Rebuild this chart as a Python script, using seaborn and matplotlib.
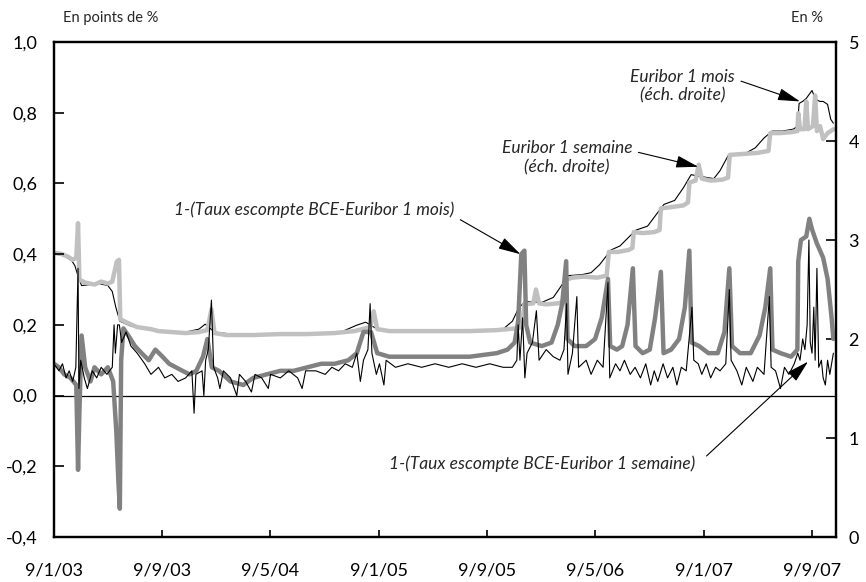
import matplotlib
matplotlib.use("Agg")
import matplotlib.pyplot as plt
import matplotlib.dates as mdates
import seaborn as sns
import pandas as pd

# Euribor 1 semaine, échelle droite (en %)
euribor_1s = [
    ("2003-01-09", 2.87), ("2003-01-25", 2.86), ("2003-02-10", 2.83), ("2003-02-20", 2.80),
    ("2003-02-28", 2.82), ("2003-03-04", 3.17), ("2003-03-07", 2.60), ("2003-03-20", 2.57),
    ("2003-04-10", 2.55), ("2003-04-25", 2.58), ("2003-05-10", 2.56), ("2003-05-20", 2.58),
    ("2003-05-30", 2.78), ("2003-06-04", 2.80), ("2003-06-07", 2.20), ("2003-06-20", 2.17),
    ("2003-07-15", 2.12), ("2003-08-15", 2.10), ("2003-09-01", 2.08), ("2003-10-01", 2.07),
    ("2003-11-01", 2.06), ("2003-12-01", 2.07), ("2003-12-20", 2.09), ("2003-12-29", 2.30),
    ("2004-01-05", 2.06), ("2004-02-01", 2.04), ("2004-04-01", 2.04), ("2004-06-01", 2.05),
    ("2004-08-01", 2.05), ("2004-10-01", 2.06), ("2004-11-15", 2.08), ("2004-12-20", 2.12),
    ("2004-12-28", 2.28), ("2005-01-05", 2.10), ("2005-02-01", 2.08), ("2005-05-01", 2.08),
    ("2005-08-01", 2.08), ("2005-10-01", 2.09), ("2005-11-20", 2.11), ("2005-11-28", 2.20),
    ("2005-12-02", 2.35), ("2005-12-22", 2.36), ("2005-12-28", 2.50), ("2006-01-04", 2.36),
    ("2006-01-20", 2.35), ("2006-02-15", 2.36), ("2006-03-02", 2.38), ("2006-03-06", 2.60),
    ("2006-03-20", 2.62), ("2006-04-15", 2.63), ("2006-05-15", 2.62), ("2006-06-05", 2.64),
    ("2006-06-10", 2.88), ("2006-07-01", 2.88), ("2006-07-25", 2.90), ("2006-08-02", 2.92),
    ("2006-08-05", 3.08), ("2006-08-25", 3.07), ("2006-09-20", 3.08), ("2006-10-02", 3.10),
    ("2006-10-05", 3.32), ("2006-10-25", 3.33), ("2006-11-25", 3.35), ("2006-12-05", 3.38),
    ("2006-12-08", 3.58), ("2006-12-22", 3.60), ("2006-12-29", 3.76), ("2007-01-05", 3.62),
    ("2007-01-25", 3.60), ("2007-02-20", 3.61), ("2007-03-05", 3.63), ("2007-03-09", 3.86),
    ("2007-04-10", 3.87), ("2007-05-10", 3.88), ("2007-06-04", 3.90), ("2007-06-08", 4.08),
    ("2007-07-01", 4.08), ("2007-07-25", 4.09), ("2007-08-08", 4.10), ("2007-08-10", 4.28),
    ("2007-08-14", 4.12), ("2007-08-24", 4.12), ("2007-08-28", 4.40), ("2007-09-01", 4.12),
    ("2007-09-12", 4.15), ("2007-09-17", 4.46), ("2007-09-21", 4.10), ("2007-09-28", 4.15),
    ("2007-10-05", 4.02), ("2007-10-15", 4.08), ("2007-10-22", 4.10), ("2007-10-28", 4.12),
]

# Euribor 1 mois, échelle droite (en %)
euribor_1m = [
    ("2003-01-09", 2.86), ("2003-02-01", 2.84), ("2003-02-18", 2.79), ("2003-02-25", 2.74),
    ("2003-03-05", 2.62), ("2003-03-12", 2.54), ("2003-04-01", 2.55), ("2003-04-20", 2.56),
    ("2003-05-10", 2.54), ("2003-05-20", 2.48), ("2003-05-28", 2.32), ("2003-06-06", 2.18),
    ("2003-07-01", 2.13), ("2003-08-01", 2.10), ("2003-09-01", 2.08), ("2003-10-01", 2.07),
    ("2003-11-01", 2.07), ("2003-12-01", 2.10), ("2003-12-15", 2.15), ("2004-01-05", 2.07),
    ("2004-03-01", 2.04), ("2004-05-01", 2.05), ("2004-07-01", 2.05), ("2004-09-01", 2.06),
    ("2004-10-15", 2.07), ("2004-11-20", 2.14), ("2004-12-10", 2.17), ("2005-01-05", 2.10),
    ("2005-03-01", 2.08), ("2005-06-01", 2.08), ("2005-09-01", 2.09), ("2005-10-15", 2.10),
    ("2005-11-05", 2.18), ("2005-11-20", 2.32), ("2005-12-05", 2.38), ("2006-01-10", 2.37),
    ("2006-02-05", 2.42), ("2006-02-25", 2.55), ("2006-03-10", 2.64), ("2006-04-10", 2.65),
    ("2006-05-01", 2.67), ("2006-05-20", 2.75), ("2006-06-15", 2.90), ("2006-07-05", 2.94),
    ("2006-07-25", 3.03), ("2006-08-10", 3.10), ("2006-09-05", 3.14), ("2006-09-25", 3.26),
    ("2006-10-12", 3.36), ("2006-11-05", 3.40), ("2006-11-25", 3.53), ("2006-12-12", 3.66),
    ("2007-01-05", 3.64), ("2007-02-01", 3.62), ("2007-02-15", 3.70), ("2007-03-05", 3.85),
    ("2007-03-20", 3.87), ("2007-04-15", 3.88), ("2007-05-05", 3.93), ("2007-05-25", 4.03),
    ("2007-06-12", 4.10), ("2007-07-05", 4.10), ("2007-07-30", 4.12), ("2007-08-08", 4.15),
    ("2007-08-12", 4.38), ("2007-08-20", 4.40), ("2007-08-28", 4.43), ("2007-09-05", 4.48),
    ("2007-09-10", 4.51), ("2007-09-18", 4.42), ("2007-09-28", 4.40), ("2007-10-05", 4.40),
    ("2007-10-15", 4.37), ("2007-10-22", 4.22), ("2007-10-28", 4.18),
]

# 1-(Taux escompte BCE - Euribor 1 mois), échelle gauche (en points de %)
ecart_1m = [
    ("2003-01-09", 0.09), ("2003-01-20", 0.08), ("2003-02-01", 0.06), ("2003-02-15", 0.05),
    ("2003-02-28", 0.03), ("2003-03-04", -0.21), ("2003-03-07", -0.05), ("2003-03-12", 0.17),
    ("2003-03-20", 0.08), ("2003-04-01", 0.04), ("2003-04-10", 0.08), ("2003-04-25", 0.06),
    ("2003-05-10", 0.08), ("2003-05-22", 0.04), ("2003-05-29", -0.10), ("2003-06-03", -0.25),
    ("2003-06-06", -0.32), ("2003-06-09", 0.10), ("2003-06-14", 0.19), ("2003-06-25", 0.17),
    ("2003-07-10", 0.14), ("2003-07-25", 0.12), ("2003-08-10", 0.10), ("2003-08-25", 0.13),
    ("2003-09-10", 0.11), ("2003-09-25", 0.09), ("2003-10-10", 0.08), ("2003-10-25", 0.07),
    ("2003-11-10", 0.06), ("2003-11-25", 0.07), ("2003-12-10", 0.11), ("2003-12-20", 0.16),
    ("2003-12-30", 0.08), ("2004-01-15", 0.07), ("2004-02-10", 0.04), ("2004-03-10", 0.03),
    ("2004-04-01", 0.05), ("2004-05-01", 0.06), ("2004-06-01", 0.07), ("2004-07-01", 0.07),
    ("2004-08-01", 0.08), ("2004-09-01", 0.09), ("2004-10-01", 0.09), ("2004-11-01", 0.10),
    ("2004-11-20", 0.12), ("2004-12-05", 0.18), ("2004-12-22", 0.18), ("2005-01-05", 0.12),
    ("2005-02-01", 0.11), ("2005-04-01", 0.11), ("2005-06-01", 0.11), ("2005-08-01", 0.11),
    ("2005-10-01", 0.12), ("2005-10-25", 0.13), ("2005-11-10", 0.15), ("2005-11-18", 0.21),
    ("2005-11-25", 0.40), ("2005-12-02", 0.41), ("2005-12-06", 0.20), ("2005-12-15", 0.15),
    ("2006-01-10", 0.14), ("2006-02-01", 0.15), ("2006-02-15", 0.20), ("2006-02-25", 0.26),
    ("2006-03-06", 0.38), ("2006-03-09", 0.16), ("2006-03-25", 0.14), ("2006-04-20", 0.14),
    ("2006-05-10", 0.16), ("2006-05-25", 0.22), ("2006-06-08", 0.33), ("2006-06-13", 0.14),
    ("2006-06-28", 0.13), ("2006-07-10", 0.14), ("2006-07-22", 0.20), ("2006-08-03", 0.36),
    ("2006-08-09", 0.14), ("2006-08-25", 0.12), ("2006-09-10", 0.13), ("2006-09-22", 0.22),
    ("2006-10-05", 0.35), ("2006-10-11", 0.12), ("2006-10-28", 0.13), ("2006-11-15", 0.16),
    ("2006-11-28", 0.25), ("2006-12-08", 0.41), ("2006-12-13", 0.15), ("2006-12-30", 0.14),
    ("2007-01-20", 0.12), ("2007-02-10", 0.12), ("2007-02-25", 0.18), ("2007-03-08", 0.36),
    ("2007-03-14", 0.14), ("2007-04-01", 0.12), ("2007-04-25", 0.12), ("2007-05-15", 0.17),
    ("2007-05-28", 0.25), ("2007-06-08", 0.36), ("2007-06-13", 0.13), ("2007-07-01", 0.12),
    ("2007-07-25", 0.11), ("2007-08-08", 0.13), ("2007-08-10", 0.38), ("2007-08-16", 0.44),
    ("2007-08-28", 0.45), ("2007-09-04", 0.50), ("2007-09-10", 0.47), ("2007-09-21", 0.43),
    ("2007-10-05", 0.39), ("2007-10-15", 0.33), ("2007-10-24", 0.22), ("2007-10-28", 0.16),
]

# 1-(Taux escompte BCE - Euribor 1 semaine), échelle gauche (en points de %)
ecart_1s = [
    ("2003-01-09", 0.09), ("2003-01-20", 0.07), ("2003-01-28", 0.09), ("2003-02-05", 0.05),
    ("2003-02-12", 0.07), ("2003-02-20", 0.04), ("2003-02-27", 0.08), ("2003-03-04", 0.36),
    ("2003-03-06", 0.02), ("2003-03-10", 0.10), ("2003-03-18", 0.05), ("2003-03-25", 0.02),
    ("2003-04-05", 0.07), ("2003-04-15", 0.05), ("2003-04-25", 0.08), ("2003-05-08", 0.06),
    ("2003-05-20", 0.08), ("2003-05-24", 0.20), ("2003-05-27", 0.12), ("2003-06-01", 0.20),
    ("2003-06-05", 0.20), ("2003-06-10", 0.15), ("2003-06-20", 0.18), ("2003-07-01", 0.14),
    ("2003-07-15", 0.12), ("2003-08-01", 0.09), ("2003-08-15", 0.06), ("2003-09-01", 0.08),
    ("2003-09-15", 0.05), ("2003-10-01", 0.06), ("2003-10-15", 0.04), ("2003-11-01", 0.05),
    ("2003-11-15", 0.07), ("2003-11-20", -0.05), ("2003-11-24", 0.06), ("2003-12-08", 0.07),
    ("2003-12-12", 0.00), ("2003-12-16", 0.10), ("2003-12-22", 0.13), ("2003-12-29", 0.27),
    ("2004-01-03", 0.08), ("2004-01-12", 0.05), ("2004-01-17", 0.02), ("2004-01-25", 0.07),
    ("2004-02-10", 0.05), ("2004-02-24", 0.00), ("2004-03-01", 0.06), ("2004-03-15", 0.04),
    ("2004-03-28", 0.01), ("2004-04-05", 0.06), ("2004-04-20", 0.05), ("2004-05-05", 0.02),
    ("2004-05-10", 0.06), ("2004-06-01", 0.05), ("2004-06-20", 0.07), ("2004-07-10", 0.05),
    ("2004-07-20", 0.02), ("2004-07-28", 0.07), ("2004-08-20", 0.07), ("2004-09-10", 0.06),
    ("2004-09-25", 0.08), ("2004-10-10", 0.07), ("2004-10-25", 0.09), ("2004-11-10", 0.08),
    ("2004-11-20", 0.12), ("2004-11-28", 0.04), ("2004-12-05", 0.10), ("2004-12-15", 0.13),
    ("2004-12-20", 0.26), ("2004-12-24", 0.12), ("2005-01-03", 0.06), ("2005-01-10", 0.09),
    ("2005-01-20", 0.03), ("2005-01-25", 0.10), ("2005-02-15", 0.08), ("2005-03-15", 0.09),
    ("2005-04-15", 0.08), ("2005-05-15", 0.09), ("2005-06-15", 0.08), ("2005-07-15", 0.09),
    ("2005-08-15", 0.08), ("2005-09-15", 0.09), ("2005-10-15", 0.08), ("2005-11-05", 0.08),
    ("2005-11-15", 0.10), ("2005-11-18", 0.20), ("2005-11-22", 0.10), ("2005-11-28", 0.22),
    ("2005-12-03", 0.05), ("2005-12-08", 0.12), ("2005-12-20", 0.15), ("2005-12-29", 0.24),
    ("2006-01-04", 0.10), ("2006-01-20", 0.13), ("2006-02-05", 0.11), ("2006-02-20", 0.10),
    ("2006-03-01", 0.13), ("2006-03-07", 0.26), ("2006-03-10", 0.06), ("2006-03-20", 0.12),
    ("2006-03-30", 0.28), ("2006-04-03", 0.08), ("2006-04-20", 0.10), ("2006-05-01", 0.06),
    ("2006-05-15", 0.10), ("2006-05-28", 0.08), ("2006-06-08", 0.32), ("2006-06-12", 0.05),
    ("2006-06-25", 0.09), ("2006-07-05", 0.07), ("2006-07-15", 0.10), ("2006-07-28", 0.06),
    ("2006-08-08", 0.08), ("2006-08-20", 0.05), ("2006-09-01", 0.09), ("2006-09-12", 0.03),
    ("2006-09-20", 0.07), ("2006-09-28", 0.04), ("2006-10-10", 0.09), ("2006-10-20", 0.05),
    ("2006-11-01", 0.08), ("2006-11-10", 0.03), ("2006-11-20", 0.08), ("2006-12-01", 0.07),
    ("2006-12-14", 0.25), ("2006-12-18", 0.10), ("2006-12-28", 0.09), ("2007-01-05", 0.06),
    ("2007-01-15", 0.09), ("2007-01-25", 0.05), ("2007-02-05", 0.08), ("2007-02-15", 0.07),
    ("2007-02-28", 0.09), ("2007-03-08", 0.30), ("2007-03-12", 0.10), ("2007-03-25", 0.07),
    ("2007-04-05", 0.03), ("2007-04-15", 0.08), ("2007-04-30", 0.04), ("2007-05-10", 0.08),
    ("2007-05-25", 0.06), ("2007-06-06", 0.28), ("2007-06-10", 0.08), ("2007-06-20", 0.07),
    ("2007-07-01", 0.02), ("2007-07-10", 0.08), ("2007-07-20", 0.06), ("2007-08-01", 0.09),
    ("2007-08-09", 0.12), ("2007-08-14", 0.10), ("2007-08-20", 0.16), ("2007-08-25", 0.13),
    ("2007-08-30", 0.20), ("2007-09-03", 0.44), ("2007-09-06", 0.15), ("2007-09-10", 0.12),
    ("2007-09-14", 0.25), ("2007-09-17", 0.10), ("2007-09-21", 0.36), ("2007-09-25", 0.08),
    ("2007-10-01", 0.10), ("2007-10-05", 0.05), ("2007-10-10", 0.03), ("2007-10-15", 0.10),
    ("2007-10-20", 0.06), ("2007-10-28", 0.12),
]

x_ticks = ["2003-01-09", "2003-09-09", "2004-05-09", "2005-01-09",
           "2005-09-09", "2006-05-09", "2007-01-09", "2007-09-09"]
x_tick_labels = ["9/1/03", "9/9/03", "9/5/04", "9/1/05", "9/9/05", "9/5/06", "9/1/07", "9/9/07"]
left_ticks = [-0.4, -0.2, 0.0, 0.2, 0.4, 0.6, 0.8, 1.0]
left_tick_labels = ["-0,4", "-0,2", "0,0", "0,2", "0,4", "0,6", "0,8", "1,0"]
right_ticks = [0, 1, 2, 3, 4, 5]

LIGHT = "#c0c0c0"
DARK = "#818181"


def to_frame(points):
    df = pd.DataFrame(points, columns=["date", "value"])
    df["date"] = pd.to_datetime(df["date"])
    return df


def num(d):
    return mdates.date2num(pd.Timestamp(d))


sns.set_theme(style="white")
plt.rcParams["font.family"] = ["Lato", "DejaVu Sans"]

fig = plt.figure(figsize=(8.66, 5.82), dpi=100)
ax = fig.add_axes([0.0624, 0.0773, 0.903, 0.8505])
ax2 = ax.twinx()
# les écarts (échelle gauche) passent devant les taux
ax.set_zorder(2)
ax.patch.set_visible(False)

# Euribor 1 mois d'abord : la courbe grise claire le recouvre quand ils se confondent
sns.lineplot(data=to_frame(euribor_1m), x="date", y="value", ax=ax2,
             color="black", linewidth=0.8)
sns.lineplot(data=to_frame(euribor_1s), x="date", y="value", ax=ax2,
             color=LIGHT, linewidth=3.2)
ax.axhline(0, color="black", linewidth=0.9, zorder=1)
sns.lineplot(data=to_frame(ecart_1m), x="date", y="value", ax=ax,
             color=DARK, linewidth=3.2)
sns.lineplot(data=to_frame(ecart_1s), x="date", y="value", ax=ax,
             color="black", linewidth=0.8)

ax.set_xlim(pd.Timestamp("2003-01-09"), pd.Timestamp("2007-11-03"))
ax.set_ylim(-0.4, 1.0)
ax2.set_ylim(0, 5)

ax.set_xticks([pd.Timestamp(d) for d in x_ticks])
ax.set_xticklabels(x_tick_labels)
ax.set_yticks(left_ticks)
ax.set_yticklabels(left_tick_labels)
ax2.set_yticks(right_ticks)
ax2.set_yticklabels([str(t) for t in right_ticks])

for a in (ax, ax2):
    a.set_xlabel("")
    a.set_ylabel("")
    for s in a.spines.values():
        s.set_color("black")
        s.set_linewidth(1.6)

ax.tick_params(axis="y", direction="in", length=7, width=1.2, color="black",
               labelsize=13, labelcolor="black", pad=12, left=True)
ax.tick_params(axis="x", direction="in", length=5, width=1.2, color="black",
               labelsize=13, labelcolor="black", pad=18, bottom=True)
ax2.tick_params(axis="y", direction="in", length=7, width=1.2, color="black",
                labelsize=13, labelcolor="black", pad=9, right=True)

fig.text(63 / 866, 1 - 18 / 582, "En points de %", ha="left", va="center", fontsize=10.5)
fig.text(823 / 866, 1 - 18 / 582, "En %", ha="right", va="center", fontsize=10.5)

head = "-|>,head_length=1.1,head_width=0.3"

ax2.annotate("Euribor 1 mois\n(éch. droite)", xy=(num("2007-08-14"), 4.40),
             xytext=(0.804, 0.911), textcoords="axes fraction",
             ha="center", va="center", fontsize=12.5, style="italic",
             arrowprops=dict(arrowstyle=head, color="black", lw=0.8,
                             shrinkA=2, shrinkB=0, relpos=(1.0, 0.7)))
ax2.annotate("Euribor 1 semaine\n(éch. droite)", xy=(num("2006-12-28"), 3.74),
             xytext=(0.656, 0.766), textcoords="axes fraction",
             ha="center", va="center", fontsize=12.5, style="italic",
             arrowprops=dict(arrowstyle=head, color="black", lw=0.8,
                             shrinkA=2, shrinkB=0, relpos=(1.0, 0.7)))
ax.annotate("1-(Taux escompte BCE-Euribor 1 mois)", xy=(num("2005-11-23"), 0.40),
            xytext=(0.333, 0.661), textcoords="axes fraction",
            ha="center", va="center", fontsize=12.5, style="italic",
            arrowprops=dict(arrowstyle=head, color="black", lw=0.8,
                            shrinkA=2, shrinkB=0, relpos=(1.0, 0.1)))
ax.annotate("1-(Taux escompte BCE-Euribor 1 semaine)", xy=(num("2007-09-01"), 0.096),
            xytext=(0.624, 0.149), textcoords="axes fraction",
            ha="center", va="center", fontsize=12.5, style="italic",
            arrowprops=dict(arrowstyle=head, color="black", lw=0.8,
                            shrinkA=8, shrinkB=0, relpos=(1.0, 0.3)))

fig.savefig("out.png", dpi=100)
